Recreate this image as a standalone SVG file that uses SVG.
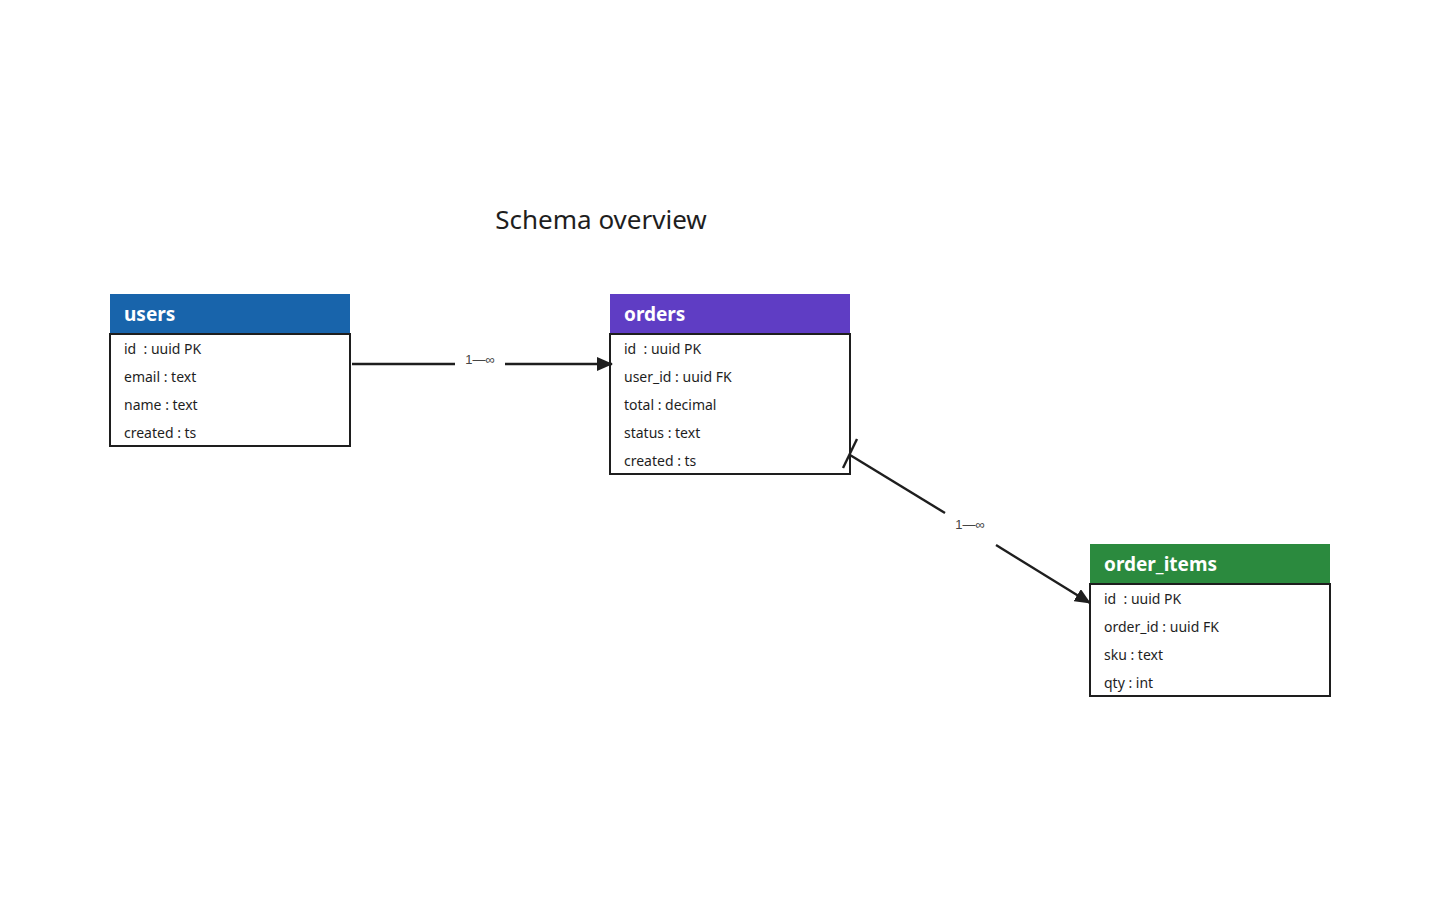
<svg xmlns="http://www.w3.org/2000/svg" width="1440" height="900" viewBox="0 0 1440 900">
<style>
.hd{font-family:"Comic Sans MS","Noto Sans",sans-serif;font-size:19px;fill:#fff;font-weight:bold}
.row{font-family:"Comic Sans MS","Noto Sans",sans-serif;font-size:14px;fill:#1e1e1e;white-space:pre}
.box{fill:#fff;stroke:#1e1e1e;stroke-width:2}
.ln{stroke:#1e1e1e;stroke-width:2.4;fill:none}
.lbl{font-family:"Liberation Sans",sans-serif;font-size:13px;fill:#444;text-anchor:middle}
</style>
<defs><marker id="ar" markerWidth="16" markerHeight="14" refX="15" refY="7" orient="auto" markerUnits="userSpaceOnUse"><path d="M0,0 L16,7 L0,14 Z" fill="#1e1e1e"/></marker></defs>
<rect width="1440" height="900" fill="#fff"/>
<text x="601" y="229" font-family="Comic Sans MS,Noto Sans,sans-serif" font-size="26" fill="#1e1e1e" text-anchor="middle">Schema overview</text>
<g id="users">
<rect class="box" x="110" y="334" width="240" height="112"/>
<rect x="110" y="294" width="240" height="40" fill="#1864ab"/>
<line x1="110" y1="334" x2="350" y2="334" stroke="#1e1e1e" stroke-width="2"/>
<text class="hd" x="124" y="321">users</text>
<text class="row" x="124" y="354" xml:space="preserve">id  : uuid PK</text>
<text class="row" x="124" y="382">email : text</text>
<text class="row" x="124" y="410">name : text</text>
<text class="row" x="124" y="438">created : ts</text>
</g>
<g id="orders">
<rect class="box" x="610" y="334" width="240" height="140"/>
<rect x="610" y="294" width="240" height="40" fill="#5f3dc4"/>
<line x1="610" y1="334" x2="850" y2="334" stroke="#1e1e1e" stroke-width="2"/>
<text class="hd" x="624" y="321">orders</text>
<text class="row" x="624" y="354" xml:space="preserve">id  : uuid PK</text>
<text class="row" x="624" y="382">user_id : uuid FK</text>
<text class="row" x="624" y="410">total : decimal</text>
<text class="row" x="624" y="438">status : text</text>
<text class="row" x="624" y="466">created : ts</text>
</g>
<g id="order_items">
<rect class="box" x="1090" y="584" width="240" height="112"/>
<rect x="1090" y="544" width="240" height="40" fill="#2b8a3e"/>
<line x1="1090" y1="584" x2="1330" y2="584" stroke="#1e1e1e" stroke-width="2"/>
<text class="hd" x="1104" y="571">order_items</text>
<text class="row" x="1104" y="604" xml:space="preserve">id  : uuid PK</text>
<text class="row" x="1104" y="632">order_id : uuid FK</text>
<text class="row" x="1104" y="660">sku : text</text>
<text class="row" x="1104" y="688">qty : int</text>
</g>
<g id="connectors">
<line class="ln" x1="352" y1="364" x2="455" y2="364"/>
<line class="ln" x1="505" y1="364" x2="612" y2="364" marker-end="url(#ar)"/>
<text class="lbl" x="480" y="364">1—∞</text>
<line class="ln" x1="850" y1="455" x2="945" y2="513"/>
<line class="ln" x1="996" y1="545" x2="1090" y2="603" marker-end="url(#ar)"/>
<text class="lbl" x="970" y="529">1—∞</text>
<line class="ln" x1="843" y1="468" x2="857" y2="439" stroke-width="1.8"/>
</g>
</svg>
